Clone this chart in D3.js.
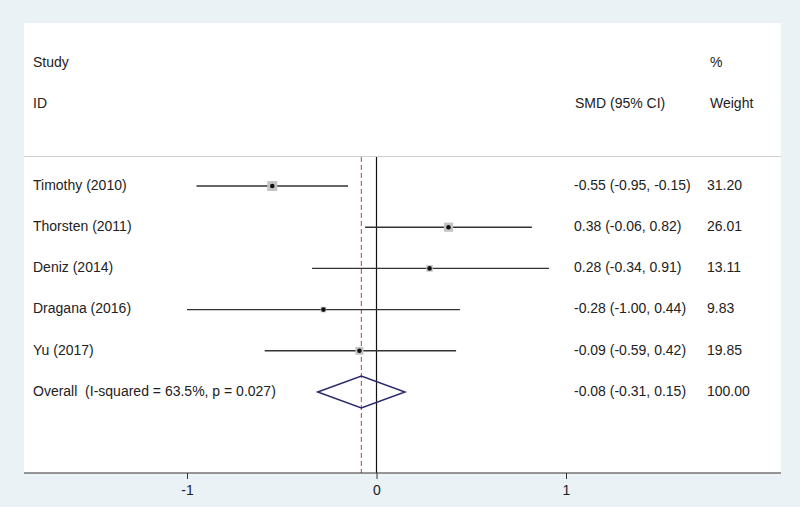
<!DOCTYPE html>
<html><head><meta charset="utf-8">
<script src="https://cdn.jsdelivr.net/npm/d3@7"></script>
<style>body{margin:0;background:#eaf2f6;}svg{display:block;font-family:"Liberation Sans",Arial,sans-serif;}text{white-space:pre;}</style>
</head><body>
<svg id="c" width="800" height="507"></svg>
<script>
const studies = ["Timothy (2010)","Thorsten (2011)","Deniz (2014)","Dragana (2016)","Yu (2017)"];
const smd = [-0.55, 0.38, 0.28, -0.28, -0.09];
const lower = [-0.95, -0.06, -0.34, -1.00, -0.59];
const upper = [-0.15, 0.82, 0.91, 0.44, 0.42];
const weights = ["31.20","26.01","13.11","9.83","19.85"];
const overallLabel = "Overall  (I-squared = 63.5%, p = 0.027)";
const overall = {est:-0.08, lo:-0.31, hi:0.15, weight:"100.00"};
const xTicks = [-1, 0, 1];

const svg = d3.select("#c");
const x = d3.scaleLinear().domain([-1, 1]).range([187, 566]);
const rows = studies.concat([overallLabel]);
const y = d3.scalePoint().domain(d3.range(rows.length)).range([186, 392]);

svg.append("rect").attr("x",24).attr("y",23).attr("width",757).attr("height",450).attr("fill","#fff");
svg.append("line").attr("x1",24).attr("x2",781).attr("y1",156.5).attr("y2",156.5).attr("stroke","#cfcfcf").attr("stroke-width",1.2);

const txt = (s,xx,yy,anchor)=>svg.append("text").attr("x",xx).attr("y",yy).attr("font-size",14).attr("fill","#222").attr("dominant-baseline","middle").attr("text-anchor",anchor||"start").attr("xml:space","preserve").text(s);
txt("Study",33,63); txt("ID",33,104); txt("SMD (95% CI)",575,104); txt("%",710,63); txt("Weight",710,104);

// reference lines
svg.append("line").attr("x1",x(0)).attr("x2",x(0)).attr("y1",157).attr("y2",473).attr("stroke","#111").attr("stroke-width",1.2);
svg.append("line").attr("x1",x(overall.est)).attr("x2",x(overall.est)).attr("y1",157).attr("y2",473).attr("stroke","#b5404a").attr("stroke-width",1).attr("stroke-dasharray","5,3");

const f2 = d3.format(".2f");
const fmt = v => f2(v).replace("\u2212","-");
studies.forEach((s,i)=>{
  const yy = y(i);
  txt(s,33,yy);
  svg.append("line").attr("x1",x(lower[i])).attr("x2",x(upper[i])).attr("y1",yy).attr("y2",yy).attr("stroke","#333").attr("stroke-width",1.4);
  const side = 1.8*Math.sqrt(+weights[i]);
  svg.append("rect").attr("x",x(smd[i])-side/2).attr("y",yy-side/2).attr("width",side).attr("height",side).attr("fill","#c4c4c4");
  svg.append("circle").attr("cx",x(smd[i])).attr("cy",yy).attr("r",2.3).attr("fill","#111");
  txt(`${fmt(smd[i])} (${fmt(lower[i])}, ${fmt(upper[i])})`,574,yy);
  txt(weights[i],707,yy);
});
const oy = y(studies.length);
txt(overallLabel,33,oy);
svg.append("path").attr("d",`M${x(overall.lo)},${oy}L${x(overall.est)},${oy-16}L${x(overall.hi)},${oy}L${x(overall.est)},${oy+16}Z`).attr("fill","none").attr("stroke","#2b2a6b").attr("stroke-width",1.5);
txt(`${fmt(overall.est)} (${fmt(overall.lo)}, ${fmt(overall.hi)})`,574,oy);
txt(overall.weight,707,oy);

// axis
const ax = svg.append("g").attr("transform","translate(0,473)").call(d3.axisBottom(x).tickValues(xTicks).tickFormat(d=>String(d)).tickSize(6).tickPadding(6));
ax.select(".domain").remove();
ax.selectAll("line").attr("stroke","#333");
ax.selectAll("text").attr("font-size",14).attr("fill","#222").attr("font-family","Liberation Sans, Arial, sans-serif");
svg.append("line").attr("x1",24).attr("x2",781).attr("y1",473).attr("y2",473).attr("stroke","#333").attr("stroke-width",1.2);
</script>
</body></html>
